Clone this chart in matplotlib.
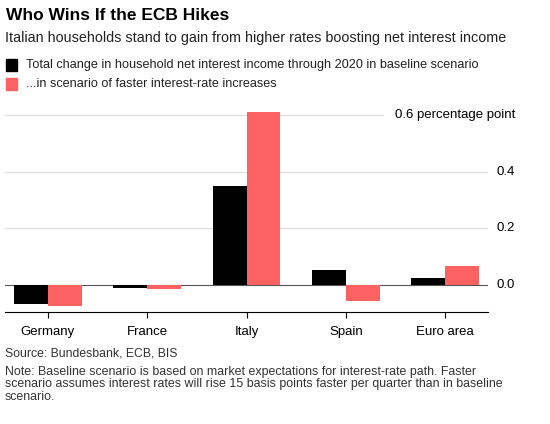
import matplotlib
matplotlib.use("Agg")
import matplotlib.pyplot as plt
import numpy as np

plt.rcParams['font.family'] = ['Liberation Sans', 'DejaVu Sans']

categories = ["Germany", "France", "Italy", "Spain", "Euro area"]
baseline = [-0.067, -0.010, 0.349, 0.053, 0.024]
faster = [-0.073, -0.015, 0.612, -0.056, 0.068]
yticks = [0.0, 0.2, 0.4, 0.6]
ytick_labels = ["0.0", "0.2", "0.4", "0.6 percentage point"]

W, H = 550, 424
fig = plt.figure(figsize=(W/100, H/100), dpi=100)
ax_left, ax_right = 5/W, 488/W
ax_top_px, ax_bot_px = 108, 311.7
ax = fig.add_axes([ax_left, 1 - ax_bot_px/H, ax_right - ax_left, (ax_bot_px - ax_top_px)/H])

x = np.arange(len(categories))
bw = 0.34
black = "#000000"
red = "#fd6262"
ax.bar(x - bw/2, baseline, bw, color=black, zorder=3)
ax.bar(x + bw/2, faster, bw, color=red, zorder=3)

ax.set_xlim(-0.43, 4.43)
ax.set_ylim(-0.094, 0.625)

for s in ["top", "left", "right"]:
    ax.spines[s].set_visible(False)
ax.spines["bottom"].set_color("#000000")
ax.spines["bottom"].set_linewidth(0.8)

ax.set_xticks(x)
ax.set_xticklabels(categories, fontsize=9.5)
ax.tick_params(axis="x", length=4, width=0.8, color="#000000", pad=6)

ax.set_yticks(yticks)
ax.set_yticklabels([])
ax.tick_params(axis="y", length=0)
for t in yticks:
    if t == 0.0:
        ax.axhline(t, color="#555555", lw=0.8, zorder=2)
    elif t == 0.6:
        ax.plot([-0.43, (383-47.7)/99.5], [t, t], color="#dddddd", lw=0.8, zorder=1, clip_on=False)
    else:
        ax.axhline(t, color="#dddddd", lw=0.8, zorder=1)

for t, lab in zip(yticks, ytick_labels):
    ax.annotate(lab, xy=(1.0, t), xycoords=("axes fraction", "data"),
                xytext=(515 - 488, 0), textcoords="offset pixels",
                ha="right", va="center", fontsize=9.5, color="#000000")

fig.text(6/W, 1 - 15/H, "Who Wins If the ECB Hikes", fontsize=12.5, fontweight="bold",
         ha="left", va="center")
fig.text(5/W, 1 - 38/H, "Italian households stand to gain from higher rates boosting net interest income",
         fontsize=10.4, ha="left", va="center", color="#222222")

for i, (lab, col) in enumerate([("Total change in household net interest income through 2020 in baseline scenario", black),
                                 ("...in scenario of faster interest-rate increases", red)]):
    yc = 65 + i*19
    fig.patches.append(matplotlib.patches.Rectangle((6/W, 1 - (yc+6)/H), 11/W, 12/H,
                                                    transform=fig.transFigure, color=col))
    fig.text(26/W, 1 - yc/H, lab, fontsize=9.05, ha="left", va="center", color="#222222")

fig.text(5/W, 1 - 354/H, "Source: Bundesbank, ECB, BIS", fontsize=8.8, ha="left", va="center", color="#333333")
note = ("Note: Baseline scenario is based on market expectations for interest-rate path. Faster\n"
        "scenario assumes interest rates will rise 15 basis points faster per quarter than in baseline\n"
        "scenario.")
fig.text(5/W, 1 - 366/H, note, fontsize=8.95, ha="left", va="top", color="#333333", linespacing=1.05)

fig.savefig("out.png", dpi=100)
